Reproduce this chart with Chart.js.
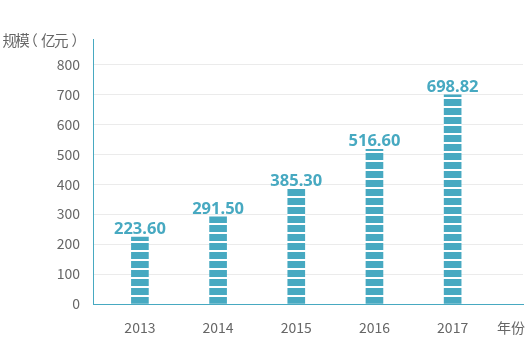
<!DOCTYPE html>
<html>
<head>
<meta charset="utf-8">
<script src="https://cdn.jsdelivr.net/npm/chart.js@4"></script>
<style>
  html, body { margin: 0; padding: 0; background: #fff; }
  #wrap { width: 525px; height: 352px; }
</style>
</head>
<body>
<div id="wrap"><canvas id="guimo" width="525" height="352"></canvas></div>
<script>
// datos del gráfico
const anios = ['2013', '2014', '2015', '2016', '2017'];
const valores = [223.60, 291.50, 385.30, 516.60, 698.82];
const yTicks = [0, 100, 200, 300, 400, 500, 600, 700, 800];

const teal = '#47a9c1';
const gris = '#666';
const fuente = '"Noto Sans CJK SC", "Noto Sans", sans-serif';

// relleno a rayas para las barras (7px color, 2px blanco)
const tile = document.createElement('canvas');
tile.width = 4;
tile.height = 9;
const tctx = tile.getContext('2d');
tctx.fillStyle = '#fff';
tctx.fillRect(0, 0, 4, 2);
tctx.fillStyle = teal;
tctx.fillRect(0, 2, 4, 7);
const rayas = document.getElementById('guimo').getContext('2d').createPattern(tile, 'repeat');

const extras = {
    id: 'extras',
    beforeDatasetsDraw(chart) {
        const y0 = chart.scales.y.getPixelForValue(0);
        rayas.setTransform(new DOMMatrix().translate(0, Math.round(y0) % 9));
    },
    afterDatasetsDraw(chart) {
        const ctx = chart.ctx;
        const meta = chart.getDatasetMeta(0);
        ctx.save();
        ctx.font = 'bold 16.5px "Noto Sans", sans-serif';
        ctx.fillStyle = teal;
        ctx.textAlign = 'center';
        ctx.textBaseline = 'alphabetic';
        meta.data.forEach((bar, i) => {
            ctx.fillText(valores[i].toFixed(2), bar.x, bar.y - 3);
        });
        // título del eje y, cada carácter centrado en su celda
        ctx.font = '14.5px ' + fuente;
        ctx.fillStyle = gris;
        ctx.textAlign = 'left';
        ctx.textBaseline = 'middle';
        const titulo = '规模（亿元）';
        [...titulo].forEach((ch, i) => {
            const m = ctx.measureText(ch);
            const cx = 3 + 6.4 + 12.9 * i;
            ctx.fillText(ch, cx - (m.actualBoundingBoxRight - m.actualBoundingBoxLeft) / 2, 40);
        });
        ctx.font = '14px ' + fuente;
        ctx.fillText('年份', 497, 328);
        ctx.restore();
    }
};

const ctx = document.getElementById('guimo').getContext('2d');
const grafico = new Chart(ctx, {
    type: 'bar',
    data: {
        datasets: [{
            data: valores.map((v, i) => ({ x: i, y: v })),
            backgroundColor: rayas,
            borderWidth: 0,
            barThickness: 17
        }]
    },
    options: {
        responsive: false,
        animation: false,
        layout: { padding: { top: 39, right: 2, left: 0, bottom: 0 } },
        plugins: {
            legend: { display: false },
            tooltip: { enabled: false }
        },
        scales: {
            x: {
                type: 'linear',
                offset: false,
                min: -0.6,
                max: 4.9,
                afterBuildTicks: (s) => { s.ticks = anios.map((a, i) => ({ value: i })); },
                afterFit: (s) => { s.height = 48; },
                grid: { display: false, drawTicks: false, offset: false },
                border: { color: teal, width: 1 },
                ticks: {
                    autoSkip: false,
                    maxRotation: 0,
                    padding: 15,
                    color: gris,
                    font: { size: 14, family: fuente },
                    callback: (v) => anios[v]
                }
            },
            y: {
                min: 0,
                max: 885,
                afterBuildTicks: (s) => { s.ticks = yTicks.map(v => ({ value: v })); },
                afterFit: (s) => { s.width = 93; },
                grid: { color: '#ebebeb', drawTicks: false },
                border: { color: teal, width: 1 },
                ticks: {
                    padding: 13,
                    color: gris,
                    font: { size: 14, family: fuente }
                }
            }
        }
    },
    plugins: [extras]
});
</script>
</body>
</html>
